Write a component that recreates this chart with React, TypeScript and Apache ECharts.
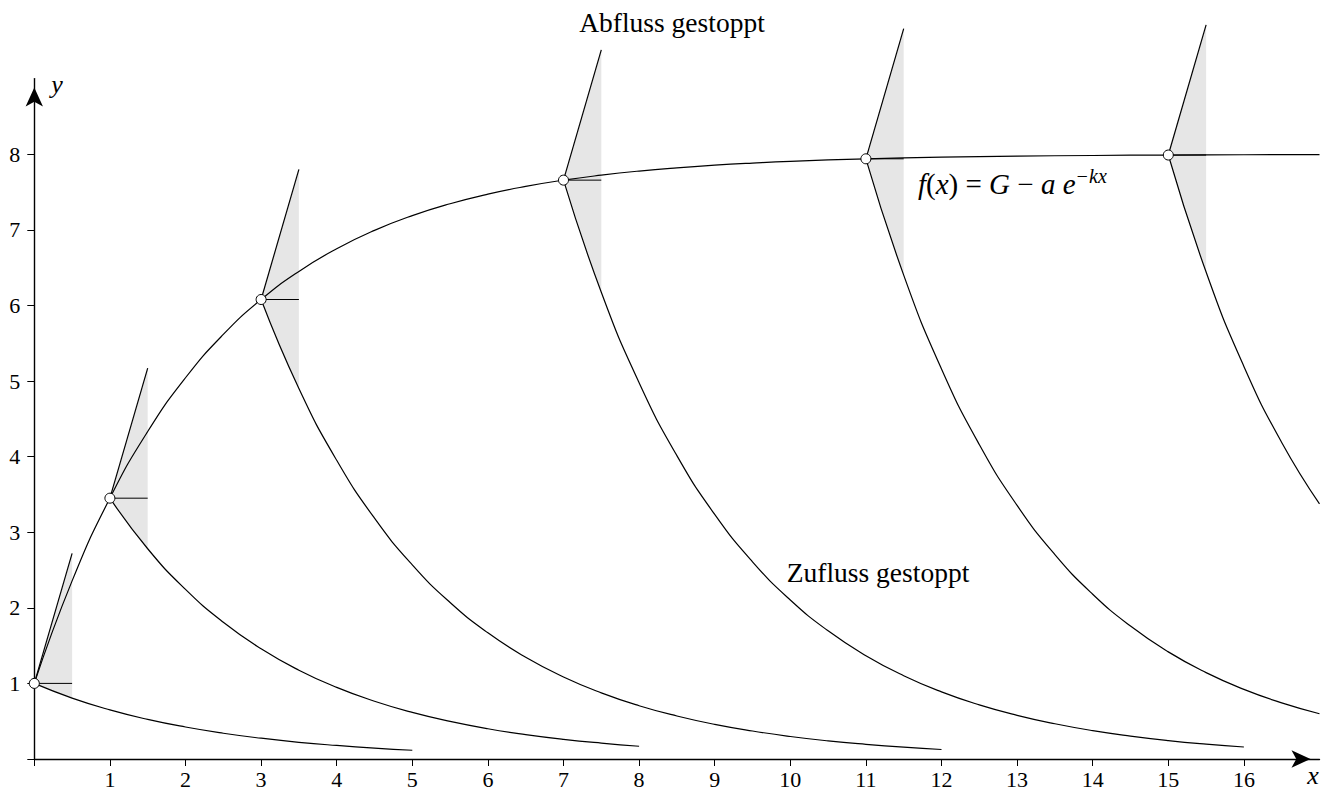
import React, { useEffect, useRef } from "react";
import * as echarts from "echarts";

// Growth curve f(x) = G - a e^{-kx}
const growthX = [0, 0.5, 1, 1.5, 2, 2.5, 3, 3.5, 4, 4.5, 5, 5.5, 6, 6.5, 7, 7.5, 8, 8.5, 9, 9.5, 10, 11, 12, 13, 14, 15, 16, 17];
const growthY = [1.0, 2.356, 3.45, 4.332, 5.043, 5.616, 6.078, 6.45, 6.75, 6.993, 7.188, 7.345, 7.472, 7.574, 7.657, 7.723, 7.777, 7.82, 7.855, 7.883, 7.906, 7.939, 7.96, 7.974, 7.983, 7.989, 7.993, 7.995];

// Decay curves ("Zufluss gestoppt"), sampled every 0.5 from their start x
const decayStep = 0.5;
const decayStarts = [0, 1, 3, 7, 11, 15];
const decayFrom0 = [1.0, 0.806, 0.65, 0.524, 0.423, 0.341, 0.275, 0.221, 0.179, 0.144, 0.116];
const decayFrom1 = [3.45, 2.781, 2.243, 1.808, 1.458, 1.175, 0.947, 0.764, 0.616, 0.497, 0.4, 0.323, 0.26, 0.21, 0.169];
const decayFrom3 = [6.078, 4.9, 3.951, 3.185, 2.568, 2.07, 1.669, 1.346, 1.085, 0.875, 0.705, 0.569, 0.458, 0.37, 0.298, 0.24, 0.194, 0.156, 0.126];
const decayFrom7 = [7.657, 6.173, 4.977, 4.013, 3.235, 2.608, 2.103, 1.695, 1.367, 1.102, 0.888, 0.716, 0.578, 0.466, 0.375, 0.303, 0.244, 0.197, 0.159];
const decayFrom11 = [7.939, 6.401, 5.16, 4.16, 3.354, 2.704, 2.18, 1.758, 1.417, 1.143, 0.921, 0.743, 0.599];
const decayFrom15 = [7.989, 6.441, 5.193, 4.187, 3.375];
const decayCurves = [decayFrom0, decayFrom1, decayFrom3, decayFrom7, decayFrom11, decayFrom15];

// Marked points and the short inflow ("Abfluss gestoppt") tangents
const pointX = [0, 1, 3, 7, 11, 15];
const pointY = [1.0, 3.45, 6.078, 7.657, 7.939, 7.989];
const segLen = 0.5;
const inflowEndY = [2.72, 5.17, 7.8, 9.38, 9.66, 9.71];
// decay values at +0.125, +0.25, +0.375, +0.5 after each point (lower edge of shading)
const shadeLower = [
  [0.948, 0.898, 0.851, 0.806],
  [3.269, 3.098, 2.935, 2.781],
  [5.759, 5.458, 5.171, 4.9],
  [7.256, 6.875, 6.515, 6.173],
  [7.523, 7.129, 6.755, 6.401],
  [7.57, 7.173, 6.797, 6.441],
];

const xTicks = [0, 1, 2, 3, 4, 5, 6, 7, 8, 9, 10, 11, 12, 13, 14, 15, 16];
const xLabels = [1, 2, 3, 4, 5, 6, 7, 8, 9, 10, 11, 12, 13, 14, 15, 16];
const yTicks = [0, 1, 2, 3, 4, 5, 6, 7, 8];
const yLabels = [1, 2, 3, 4, 5, 6, 7, 8];

const FONT = "'Liberation Serif', 'Times New Roman', serif";

export default function App() {
  const ref = useRef<HTMLDivElement>(null);

  useEffect(() => {
    if (!ref.current) return;
    const chart = echarts.init(ref.current, undefined, { renderer: "svg" });

    const black = "#000";
    const curveStyle = { color: black, width: 1.2 };

    const series: any[] = [];

    // shading
    series.push({
      type: "custom",
      z: 1,
      silent: true,
      clip: false,
      data: pointX.map((x, i) => [x, pointY[i], inflowEndY[i], ...shadeLower[i]]),
      encode: { x: 0, y: 1 },
      renderItem: (params: any, api: any) => {
        const x0 = api.value(0);
        const y0 = api.value(1);
        const pts = [
          api.coord([x0, y0]),
          api.coord([x0 + segLen, api.value(2)]),
          api.coord([x0 + segLen, api.value(6)]),
          api.coord([x0 + segLen * 0.75, api.value(5)]),
          api.coord([x0 + segLen * 0.5, api.value(4)]),
          api.coord([x0 + segLen * 0.25, api.value(3)]),
        ];
        return { type: "polygon", shape: { points: pts }, style: { fill: "#e6e6e6" } };
      },
    });

    // growth curve
    series.push({
      type: "line",
      z: 3,
      data: growthX.map((x, i) => [x, growthY[i]]),
      smooth: 0.5,
      showSymbol: false,
      lineStyle: curveStyle,
      silent: true,
    });

    // decay curves
    decayCurves.forEach((arr, ci) => {
      series.push({
        type: "line",
        z: 3,
        data: arr.map((y, j) => [decayStarts[ci] + j * decayStep, y]),
        smooth: 0.5,
        showSymbol: false,
        lineStyle: curveStyle,
        silent: true,
      });
    });

    // inflow tangents and horizontal references
    pointX.forEach((x, i) => {
      series.push({
        type: "line",
        z: 3,
        clip: false,
        data: [[x, pointY[i]], [x + segLen, inflowEndY[i]]],
        showSymbol: false,
        lineStyle: curveStyle,
        silent: true,
      });
      series.push({
        type: "line",
        z: 3,
        clip: false,
        data: [[x, pointY[i]], [x + segLen, pointY[i]]],
        showSymbol: false,
        lineStyle: { color: black, width: 1 },
        silent: true,
      });
    });

    // points
    series.push({
      type: "scatter",
      z: 5,
      data: pointX.map((x, i) => [x, pointY[i]]),
      symbol: "circle",
      symbolSize: 10,
      itemStyle: { color: "#ffffff", opacity: 1, borderColor: black, borderWidth: 1 },
      silent: true,
    });

    const axisCommon = {
      type: "value",
      interval: 1,
      splitLine: { show: false },
      axisLine: {
        show: true,
        onZero: false,
        lineStyle: { color: black, width: 1.4 },
        symbol: ["none", "arrow"],
        symbolSize: [13, 19],
        symbolOffset: [0, -9],
      },
    };

    chart.setOption({
      animation: false,
      grid: { left: 34.3, right: 13.5, top: 78.6, bottom: 32 },
      xAxis: {
        ...axisCommon,
        min: 0,
        max: 17,
        axisTick: { show: true, length: 7, lineStyle: { color: black, width: 1 }, customValues: xTicks },
        axisLabel: { customValues: xLabels, fontFamily: FONT, fontSize: 22, color: black, margin: 9 },
      },
      yAxis: {
        ...axisCommon,
        min: 0,
        max: 9,
        axisTick: { show: true, length: 7, lineStyle: { color: black, width: 1 }, customValues: yTicks },
        axisLabel: { customValues: yLabels, fontFamily: FONT, fontSize: 22, color: black, margin: 14 },
      },
      graphic: [
        {
          type: "text",
          x: 672,
          y: 22,
          style: { text: "Abfluss gestoppt", fontFamily: FONT, fontSize: 27.5, fill: black, align: "center", verticalAlign: "middle" },
        },
        {
          type: "text",
          x: 878,
          y: 572,
          style: { text: "Zufluss gestoppt", fontFamily: FONT, fontSize: 27.5, fill: black, align: "center", verticalAlign: "middle" },
        },
        {
          type: "text",
          x: 918,
          y: 166,
          style: {
            text: "{i|f}{n|(}{i|x}{n|) = }{i|G}{n| − }{i|a}{n| }{i|e}{s|−kx}",
            fill: black,
            align: "left",
            verticalAlign: "top",
            rich: {
              i: { fontFamily: FONT, fontSize: 29, fontStyle: "italic", lineHeight: 32, verticalAlign: "bottom" },
              n: { fontFamily: FONT, fontSize: 29, lineHeight: 32, verticalAlign: "bottom" },
              s: { fontFamily: FONT, fontSize: 20, fontStyle: "italic", lineHeight: 19, verticalAlign: "top" },
            },
          },
        },
        {
          type: "text",
          x: 1313,
          y: 775,
          style: { text: "x", fontFamily: FONT, fontSize: 26, fontStyle: "italic", fill: black, align: "center", verticalAlign: "middle" },
        },
        {
          type: "text",
          x: 57,
          y: 84,
          style: { text: "y", fontFamily: FONT, fontSize: 26, fontStyle: "italic", fill: black, align: "center", verticalAlign: "middle" },
        },
      ],
      series,
    });

    return () => chart.dispose();
  }, []);

  return <div ref={ref} style={{ position: "absolute", left: 0, top: 0, width: 1333, height: 791, background: "#fff" }} />;
}
